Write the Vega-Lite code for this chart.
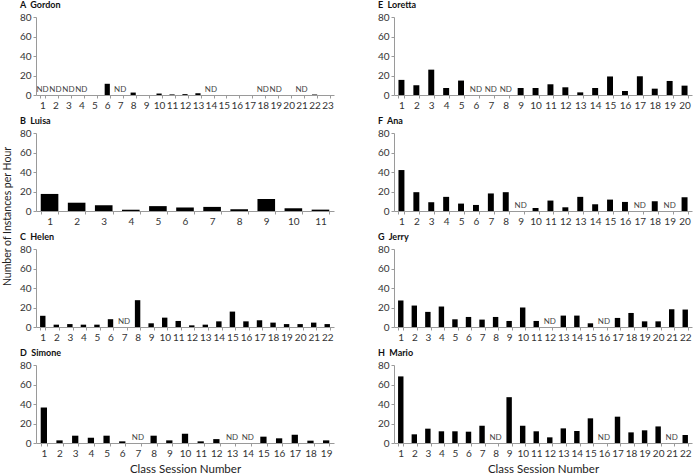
{
  "$schema": "https://vega.github.io/schema/vega-lite/v6.json",
  "padding": {"top": 1, "left": 2, "right": 2, "bottom": 0},
  "background": "white",
  "config": {
    "font": "Lato",
    "view": {"stroke": null},
    "axis": {"grid": false, "domainColor": "#9a9a9a", "tickColor": "#9a9a9a", "tickSize": 3, "labelPadding": 2, "labelColor": "#333", "labelFontSize": 10, "titleFontWeight": "normal", "titleFontSize": 11.5, "titleColor": "#222"},
    "axisX": {"labelAngle": 0, "tickBand": "extent"},
    "title": {"fontSize": 9, "fontWeight": "bold", "anchor": "start", "frame": "group", "offset": 2, "color": "#111"}
  },
  "data": {"values": [
    {"p":"A","s":1,"v":null,"nd":"ND"},{"p":"A","s":2,"v":null,"nd":"ND"},{"p":"A","s":3,"v":null,"nd":"ND"},{"p":"A","s":4,"v":null,"nd":"ND"},{"p":"A","s":5,"v":0},{"p":"A","s":6,"v":11.5},{"p":"A","s":7,"v":null,"nd":"ND"},{"p":"A","s":8,"v":2.5},{"p":"A","s":9,"v":0},{"p":"A","s":10,"v":1.5},{"p":"A","s":11,"v":0.6},{"p":"A","s":12,"v":0.9},{"p":"A","s":13,"v":1.8},{"p":"A","s":14,"v":null,"nd":"ND"},{"p":"A","s":15,"v":0},{"p":"A","s":16,"v":0},{"p":"A","s":17,"v":0},{"p":"A","s":18,"v":null,"nd":"ND"},{"p":"A","s":19,"v":null,"nd":"ND"},{"p":"A","s":20,"v":0},{"p":"A","s":21,"v":null,"nd":"ND"},{"p":"A","s":22,"v":0.5},{"p":"A","s":23,"v":0},
    {"p":"B","s":1,"v":17.5},{"p":"B","s":2,"v":8.5},{"p":"B","s":3,"v":6},{"p":"B","s":4,"v":1.3},{"p":"B","s":5,"v":5},{"p":"B","s":6,"v":3.6},{"p":"B","s":7,"v":4.2},{"p":"B","s":8,"v":1.8},{"p":"B","s":9,"v":12.3},{"p":"B","s":10,"v":2.8},{"p":"B","s":11,"v":1.4},
    {"p":"C","s":1,"v":11.5},{"p":"C","s":2,"v":2.4},{"p":"C","s":3,"v":3},{"p":"C","s":4,"v":2.4},{"p":"C","s":5,"v":2.4},{"p":"C","s":6,"v":8},{"p":"C","s":7,"v":null,"nd":"ND"},{"p":"C","s":8,"v":27.5},{"p":"C","s":9,"v":3.8},{"p":"C","s":10,"v":9.6},{"p":"C","s":11,"v":6.2},{"p":"C","s":12,"v":1.7},{"p":"C","s":13,"v":2.4},{"p":"C","s":14,"v":5.8},{"p":"C","s":15,"v":15.8},{"p":"C","s":16,"v":5.8},{"p":"C","s":17,"v":6.9},{"p":"C","s":18,"v":4.5},{"p":"C","s":19,"v":3},{"p":"C","s":20,"v":3},{"p":"C","s":21,"v":4.5},{"p":"C","s":22,"v":3},
    {"p":"D","s":1,"v":36.4},{"p":"D","s":2,"v":2.7},{"p":"D","s":3,"v":7.5},{"p":"D","s":4,"v":5.4},{"p":"D","s":5,"v":7.5},{"p":"D","s":6,"v":1.7},{"p":"D","s":7,"v":null,"nd":"ND"},{"p":"D","s":8,"v":7.5},{"p":"D","s":9,"v":2.7},{"p":"D","s":10,"v":9.5},{"p":"D","s":11,"v":1.7},{"p":"D","s":12,"v":4},{"p":"D","s":13,"v":null,"nd":"ND"},{"p":"D","s":14,"v":null,"nd":"ND"},{"p":"D","s":15,"v":6.5},{"p":"D","s":16,"v":4.8},{"p":"D","s":17,"v":8.5},{"p":"D","s":18,"v":2.4},{"p":"D","s":19,"v":2.7},
    {"p":"E","s":1,"v":15.5},{"p":"E","s":2,"v":10},{"p":"E","s":3,"v":26},{"p":"E","s":4,"v":7.2},{"p":"E","s":5,"v":14.8},{"p":"E","s":6,"v":null,"nd":"ND"},{"p":"E","s":7,"v":null,"nd":"ND"},{"p":"E","s":8,"v":null,"nd":"ND"},{"p":"E","s":9,"v":7.2},{"p":"E","s":10,"v":7.2},{"p":"E","s":11,"v":11},{"p":"E","s":12,"v":7.9},{"p":"E","s":13,"v":2.7},{"p":"E","s":14,"v":7.2},{"p":"E","s":15,"v":19},{"p":"E","s":16,"v":4.1},{"p":"E","s":17,"v":19.2},{"p":"E","s":18,"v":6.5},{"p":"E","s":19,"v":14.4},{"p":"E","s":20,"v":9.6},
    {"p":"F","s":1,"v":42},{"p":"F","s":2,"v":19.3},{"p":"F","s":3,"v":9},{"p":"F","s":4,"v":14.5},{"p":"F","s":5,"v":7.6},{"p":"F","s":6,"v":6.2},{"p":"F","s":7,"v":18},{"p":"F","s":8,"v":19.3},{"p":"F","s":9,"v":null,"nd":"ND"},{"p":"F","s":10,"v":3.1},{"p":"F","s":11,"v":10.7},{"p":"F","s":12,"v":3.8},{"p":"F","s":13,"v":14.5},{"p":"F","s":14,"v":6.9},{"p":"F","s":15,"v":11.7},{"p":"F","s":16,"v":9.3},{"p":"F","s":17,"v":null,"nd":"ND"},{"p":"F","s":18,"v":10},{"p":"F","s":19,"v":null,"nd":"ND"},{"p":"F","s":20,"v":14.1},
    {"p":"G","s":1,"v":27.2},{"p":"G","s":2,"v":22},{"p":"G","s":3,"v":15.5},{"p":"G","s":4,"v":21},{"p":"G","s":5,"v":7.9},{"p":"G","s":6,"v":10.3},{"p":"G","s":7,"v":7.6},{"p":"G","s":8,"v":10.3},{"p":"G","s":9,"v":6.2},{"p":"G","s":10,"v":20},{"p":"G","s":11,"v":6.2},{"p":"G","s":12,"v":null,"nd":"ND"},{"p":"G","s":13,"v":11.7},{"p":"G","s":14,"v":11.7},{"p":"G","s":15,"v":3.8},{"p":"G","s":16,"v":null,"nd":"ND"},{"p":"G","s":17,"v":9.3},{"p":"G","s":18,"v":14.4},{"p":"G","s":19,"v":5.8},{"p":"G","s":20,"v":5.8},{"p":"G","s":21,"v":18.2},{"p":"G","s":22,"v":17.9},
    {"p":"H","s":1,"v":68.3},{"p":"H","s":2,"v":8.9},{"p":"H","s":3,"v":14.7},{"p":"H","s":4,"v":12},{"p":"H","s":5,"v":12},{"p":"H","s":6,"v":11.6},{"p":"H","s":7,"v":17.7},{"p":"H","s":8,"v":null,"nd":"ND"},{"p":"H","s":9,"v":47},{"p":"H","s":10,"v":17.7},{"p":"H","s":11,"v":12},{"p":"H","s":12,"v":5.8},{"p":"H","s":13,"v":15},{"p":"H","s":14,"v":12.3},{"p":"H","s":15,"v":25.3},{"p":"H","s":16,"v":null,"nd":"ND"},{"p":"H","s":17,"v":27},{"p":"H","s":18,"v":10.9},{"p":"H","s":19,"v":13},{"p":"H","s":20,"v":17},{"p":"H","s":21,"v":null,"nd":"ND"},{"p":"H","s":22,"v":8.2}
  ]},
  "columns": 2,
  "bounds": "flush",
  "spacing": {"row": 38, "column": 60},
  "concat": [
    {"title": {"text": "A\u00a0\u00a0Gordon", "dx": -16, "offset": 2, "frame": "group"}, "width": 298, "height": 78,
     "transform": [{"filter": "datum.p == 'A'"}],
     "encoding": {"x": {"field": "s", "type": "ordinal", "scale": {"paddingInner": 0.6, "paddingOuter": 0.3}, "axis": {"title": null}}},
     "layer": [
       {"mark": {"type": "bar", "color": "black"}, "encoding": {"y": {"field": "v", "type": "quantitative", "scale": {"domain": [0, 80]}, "axis": {"values": [0, 20, 40, 60, 80], "labelOverlap": false, "title": null}}}},
       {"transform": [{"filter": "datum.nd == 'ND'"}], "mark": {"type": "text", "fontSize": 8, "color": "#444", "baseline": "bottom", "dy": -1}, "encoding": {"y": {"datum": 0, "type": "quantitative", "axis": {"values": [0, 20, 40, 60, 80], "labelOverlap": false, "title": null}}, "text": {"field": "nd"}}}
     ]},
    {"title": {"text": "E\u00a0\u00a0Loretta", "dx": -16, "offset": 2, "frame": "group"}, "width": 298, "height": 78,
     "transform": [{"filter": "datum.p == 'E'"}],
     "encoding": {"x": {"field": "s", "type": "ordinal", "scale": {"paddingInner": 0.6, "paddingOuter": 0.3}, "axis": {"title": null}}},
     "layer": [
       {"mark": {"type": "bar", "color": "black"}, "encoding": {"y": {"field": "v", "type": "quantitative", "scale": {"domain": [0, 80]}, "axis": {"values": [0, 20, 40, 60, 80], "labelOverlap": false, "title": null}}}},
       {"transform": [{"filter": "datum.nd == 'ND'"}], "mark": {"type": "text", "fontSize": 8, "color": "#444", "baseline": "bottom", "dy": -1}, "encoding": {"y": {"datum": 0, "type": "quantitative", "axis": {"values": [0, 20, 40, 60, 80], "labelOverlap": false, "title": null}}, "text": {"field": "nd"}}}
     ]},
    {"title": {"text": "B\u00a0\u00a0Luisa", "dx": -16, "offset": 2, "frame": "group"}, "width": 298, "height": 78,
     "transform": [{"filter": "datum.p == 'B'"}],
     "encoding": {"x": {"field": "s", "type": "ordinal", "scale": {"paddingInner": 0.35, "paddingOuter": 0.175}, "axis": {"title": null}}},
     "layer": [
       {"mark": {"type": "bar", "color": "black"}, "encoding": {"y": {"field": "v", "type": "quantitative", "scale": {"domain": [0, 80]}, "axis": {"values": [0, 20, 40, 60, 80], "labelOverlap": false, "title": "Number of Instances per Hour", "titleFontSize": 10.5, "titleY": 83, "titlePadding": 7}}}},
       {"transform": [{"filter": "datum.nd == 'ND'"}], "mark": {"type": "text", "fontSize": 8, "color": "#444", "baseline": "bottom", "dy": -1}, "encoding": {"y": {"datum": 0, "type": "quantitative", "axis": {"values": [0, 20, 40, 60, 80], "labelOverlap": false, "title": "Number of Instances per Hour", "titleFontSize": 10.5, "titleY": 83, "titlePadding": 7}}, "text": {"field": "nd"}}}
     ]},
    {"title": {"text": "F\u00a0\u00a0Ana", "dx": -16, "offset": 2, "frame": "group"}, "width": 298, "height": 78,
     "transform": [{"filter": "datum.p == 'F'"}],
     "encoding": {"x": {"field": "s", "type": "ordinal", "scale": {"paddingInner": 0.6, "paddingOuter": 0.3}, "axis": {"title": null}}},
     "layer": [
       {"mark": {"type": "bar", "color": "black"}, "encoding": {"y": {"field": "v", "type": "quantitative", "scale": {"domain": [0, 80]}, "axis": {"values": [0, 20, 40, 60, 80], "labelOverlap": false, "title": null}}}},
       {"transform": [{"filter": "datum.nd == 'ND'"}], "mark": {"type": "text", "fontSize": 8, "color": "#444", "baseline": "bottom", "dy": -1}, "encoding": {"y": {"datum": 0, "type": "quantitative", "axis": {"values": [0, 20, 40, 60, 80], "labelOverlap": false, "title": null}}, "text": {"field": "nd"}}}
     ]},
    {"title": {"text": "C\u00a0\u00a0Helen", "dx": -16, "offset": 2, "frame": "group"}, "width": 298, "height": 78,
     "transform": [{"filter": "datum.p == 'C'"}],
     "encoding": {"x": {"field": "s", "type": "ordinal", "scale": {"paddingInner": 0.6, "paddingOuter": 0.3}, "axis": {"title": null}}},
     "layer": [
       {"mark": {"type": "bar", "color": "black"}, "encoding": {"y": {"field": "v", "type": "quantitative", "scale": {"domain": [0, 80]}, "axis": {"values": [0, 20, 40, 60, 80], "labelOverlap": false, "title": null}}}},
       {"transform": [{"filter": "datum.nd == 'ND'"}], "mark": {"type": "text", "fontSize": 8, "color": "#444", "baseline": "bottom", "dy": -1}, "encoding": {"y": {"datum": 0, "type": "quantitative", "axis": {"values": [0, 20, 40, 60, 80], "labelOverlap": false, "title": null}}, "text": {"field": "nd"}}}
     ]},
    {"title": {"text": "G\u00a0\u00a0Jerry", "dx": -16, "offset": 2, "frame": "group"}, "width": 298, "height": 78,
     "transform": [{"filter": "datum.p == 'G'"}],
     "encoding": {"x": {"field": "s", "type": "ordinal", "scale": {"paddingInner": 0.6, "paddingOuter": 0.3}, "axis": {"title": null}}},
     "layer": [
       {"mark": {"type": "bar", "color": "black"}, "encoding": {"y": {"field": "v", "type": "quantitative", "scale": {"domain": [0, 80]}, "axis": {"values": [0, 20, 40, 60, 80], "labelOverlap": false, "title": null}}}},
       {"transform": [{"filter": "datum.nd == 'ND'"}], "mark": {"type": "text", "fontSize": 8, "color": "#444", "baseline": "bottom", "dy": -1}, "encoding": {"y": {"datum": 0, "type": "quantitative", "axis": {"values": [0, 20, 40, 60, 80], "labelOverlap": false, "title": null}}, "text": {"field": "nd"}}}
     ]},
    {"title": {"text": "D\u00a0\u00a0Simone", "dx": -16, "offset": 2, "frame": "group"}, "width": 298, "height": 78,
     "transform": [{"filter": "datum.p == 'D'"}],
     "encoding": {"x": {"field": "s", "type": "ordinal", "scale": {"paddingInner": 0.6, "paddingOuter": 0.3}, "axis": {"title": "Class Session Number", "titlePadding": 5}}},
     "layer": [
       {"mark": {"type": "bar", "color": "black"}, "encoding": {"y": {"field": "v", "type": "quantitative", "scale": {"domain": [0, 80]}, "axis": {"values": [0, 20, 40, 60, 80], "labelOverlap": false, "title": null}}}},
       {"transform": [{"filter": "datum.nd == 'ND'"}], "mark": {"type": "text", "fontSize": 8, "color": "#444", "baseline": "bottom", "dy": -1}, "encoding": {"y": {"datum": 0, "type": "quantitative", "axis": {"values": [0, 20, 40, 60, 80], "labelOverlap": false, "title": null}}, "text": {"field": "nd"}}}
     ]},
    {"title": {"text": "H\u00a0\u00a0Mario", "dx": -16, "offset": 2, "frame": "group"}, "width": 298, "height": 78,
     "transform": [{"filter": "datum.p == 'H'"}],
     "encoding": {"x": {"field": "s", "type": "ordinal", "scale": {"paddingInner": 0.6, "paddingOuter": 0.3}, "axis": {"title": "Class Session Number", "titlePadding": 5}}},
     "layer": [
       {"mark": {"type": "bar", "color": "black"}, "encoding": {"y": {"field": "v", "type": "quantitative", "scale": {"domain": [0, 80]}, "axis": {"values": [0, 20, 40, 60, 80], "labelOverlap": false, "title": null}}}},
       {"transform": [{"filter": "datum.nd == 'ND'"}], "mark": {"type": "text", "fontSize": 8, "color": "#444", "baseline": "bottom", "dy": -1}, "encoding": {"y": {"datum": 0, "type": "quantitative", "axis": {"values": [0, 20, 40, 60, 80], "labelOverlap": false, "title": null}}, "text": {"field": "nd"}}}
     ]}
  ]
}
